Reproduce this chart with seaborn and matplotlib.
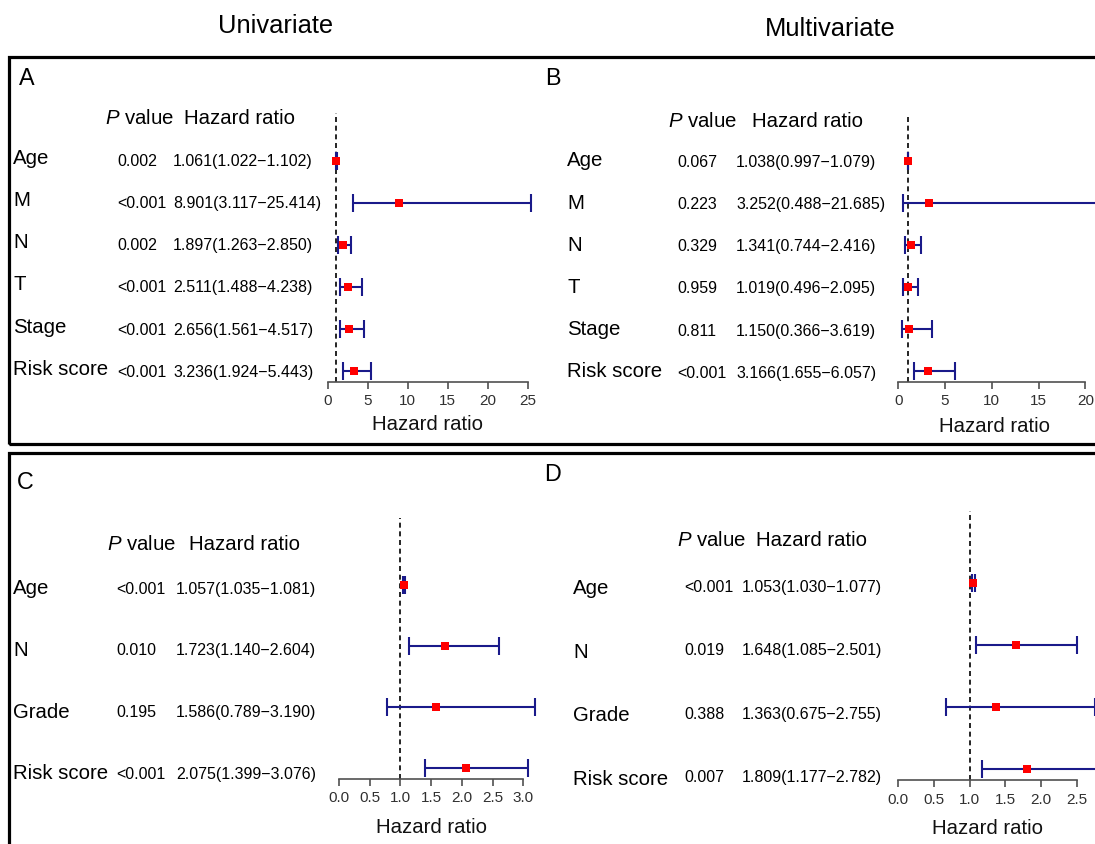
import numpy as np
import pandas as pd
import matplotlib
matplotlib.use("Agg")
import matplotlib.pyplot as plt
from matplotlib.patches import Rectangle
import seaborn as sns

# ---------------- data ----------------
a_vars = ["Age", "M", "N", "T", "Stage", "Risk score"]
a_p = ["0.002", "<0.001", "0.002", "<0.001", "<0.001", "<0.001"]
a_hr = [1.061, 8.901, 1.897, 2.511, 2.656, 3.236]
a_lo = [1.022, 3.117, 1.263, 1.488, 1.561, 1.924]
a_hi = [1.102, 25.414, 2.850, 4.238, 4.517, 5.443]
a_ticks = [0, 5, 10, 15, 20, 25]

b_vars = ["Age", "M", "N", "T", "Stage", "Risk score"]
b_p = ["0.067", "0.223", "0.329", "0.959", "0.811", "<0.001"]
b_hr = [1.038, 3.252, 1.341, 1.019, 1.150, 3.166]
b_lo = [0.997, 0.488, 0.744, 0.496, 0.366, 1.655]
b_hi = [1.079, 21.685, 2.416, 2.095, 3.619, 6.057]
b_ticks = [0, 5, 10, 15, 20]

c_vars = ["Age", "N", "Grade", "Risk score"]
c_p = ["<0.001", "0.010", "0.195", "<0.001"]
c_hr = [1.057, 1.723, 1.586, 2.075]
c_lo = [1.035, 1.140, 0.789, 1.399]
c_hi = [1.081, 2.604, 3.190, 3.076]
c_ticks = [0.0, 0.5, 1.0, 1.5, 2.0, 2.5, 3.0]

d_vars = ["Age", "N", "Grade", "Risk score"]
d_p = ["<0.001", "0.019", "0.388", "0.007"]
d_hr = [1.053, 1.648, 1.363, 1.809]
d_lo = [1.030, 1.085, 0.675, 1.177]
d_hi = [1.077, 2.501, 2.755, 2.782]
d_ticks = [0.0, 0.5, 1.0, 1.5, 2.0, 2.5]

col_titles = ["Univariate", "Multivariate"]
panel_letters = ["A", "B", "C", "D"]

# ---------------- style ----------------
sns.set_theme(style="white")
plt.rcParams["font.family"] = ["Liberation Sans", "DejaVu Sans"]
plt.rcParams["mathtext.fontset"] = "custom"
plt.rcParams["mathtext.it"] = "Liberation Sans:italic"
plt.rcParams["mathtext.rm"] = "Liberation Sans"

W, H = 1095, 844
fig = plt.figure(figsize=(W / 100, H / 100), dpi=100)
fig.patch.set_facecolor("white")

NAVY = "#1a1a8a"
AXC = "#505050"
LBL_FS = 14.7
VAL_FS = 11.5
LBL_HALF = 0.716 * LBL_FS * 100 / 72 / 2
VAL_HALF = 0.716 * VAL_FS * 100 / 72 / 2


def fx(x):
    return x / W


def fy(y):
    return 1 - y / H


def ftext(x, y, s, size, half, **kw):
    fig.text(fx(x), fy(y + half), s, fontsize=size, ha=kw.pop("ha", "left"),
             va="baseline", color=kw.pop("color", "black"), **kw)


# layout (pixel positions)
layouts = [
    dict(x0=327.7, ppu=8.01, xmax=25.414, mark_y0=160.7, step=42.07, axis_y=381.7,
         dash_top=113, label_x=13, p_x=117, hr_x=173, label_y0=156.5, txt_y0=160,
         txt_step=42.2, head_y=117, headP_x=105, headHR_x=184, xlab=(427, 423),
         letter=(19, 77), fmt="{:.0f}"),
    dict(x0=898.3, ppu=9.35, xmax=21.685, mark_y0=160.7, step=42.07, axis_y=381.7,
         dash_top=115, label_x=567, p_x=677, hr_x=736, label_y0=159, txt_y0=161,
         txt_step=42.2, head_y=120, headP_x=668, headHR_x=752, xlab=(995, 425),
         letter=(545, 77), fmt="{:.0f}"),
    dict(x0=339, ppu=61.4, xmax=3.19, mark_y0=585, step=61.1, axis_y=779,
         dash_top=518, label_x=13, p_x=116, hr_x=176, label_y0=587, txt_y0=588,
         txt_step=61.6, head_y=542.7, headP_x=107, headHR_x=189, xlab=(432, 826),
         letter=(17, 481), fmt="{:.1f}"),
    dict(x0=898.3, ppu=71.4, xmax=2.782, mark_y0=583.3, step=61.9, axis_y=780,
         dash_top=511, label_x=573, p_x=684, hr_x=742, label_y0=586.7, txt_y0=586,
         txt_step=63.5, head_y=539, headP_x=677, headHR_x=756, xlab=(987, 827),
         letter=(544, 473), fmt="{:.1f}"),
]

panels = [
    (a_vars, a_p, a_hr, a_lo, a_hi, a_ticks),
    (b_vars, b_p, b_hr, b_lo, b_hi, b_ticks),
    (c_vars, c_p, c_hr, c_lo, c_hi, c_ticks),
    (d_vars, d_p, d_hr, d_lo, d_hi, d_ticks),
]


def draw_panel(L, letter, vars_, pvals, hr, lo, hi, ticks):
    n = len(vars_)
    left = fx(L["x0"])
    width = L["xmax"] * L["ppu"] / W
    bottom = fy(L["axis_y"])
    height = (L["axis_y"] - L["dash_top"]) / H
    ax = fig.add_axes([left, bottom, width, height])
    ax.set_facecolor("none")

    df = pd.DataFrame({"hr": hr, "lo": lo, "hi": hi, "row": np.arange(n)})
    eb = ax.errorbar(df["hr"], df["row"],
                     xerr=[df["hr"] - df["lo"], df["hi"] - df["hr"]],
                     fmt="none", ecolor=NAVY, elinewidth=1.5, capsize=6.5,
                     capthick=1.5, zorder=2)
    for art in eb.get_children():
        art.set_clip_on(False)
    sns.scatterplot(data=df, x="hr", y="row", marker="s", color="#ff0000", s=38,
                    linewidth=0, ax=ax, zorder=3, legend=False, clip_on=False)
    ax.axvline(1, color="black", lw=1.2, ls=(0, (3, 2.2)), zorder=1)

    ax.set_xlim(0, L["xmax"])
    ax.set_ylim((L["axis_y"] - L["mark_y0"]) / L["step"],
                (L["dash_top"] - L["mark_y0"]) / L["step"])
    for s in ["top", "right", "left"]:
        ax.spines[s].set_visible(False)
    ax.spines["bottom"].set_bounds(ticks[0], ticks[-1])
    ax.spines["bottom"].set_color(AXC)
    ax.spines["bottom"].set_linewidth(1.2)
    ax.set_yticks([])
    ax.set_xticks(ticks)
    ax.set_xticklabels([L["fmt"].format(t) for t in ticks])
    ax.tick_params(axis="x", bottom=True, length=5, width=1.2, color=AXC,
                   labelsize=11, labelcolor="#303030", pad=4)
    ax.set_ylabel("")
    ax.set_xlabel("Hazard ratio", fontsize=LBL_FS, color="#111111")
    xl, yl = L["xlab"]
    ax.xaxis.set_label_coords((xl - L["x0"]) / (L["xmax"] * L["ppu"]),
                              (L["axis_y"] - (yl + LBL_HALF)) /
                              (L["axis_y"] - L["dash_top"]))
    ax.xaxis.label.set_va("baseline")

    # table text
    ftext(L["letter"][0], L["letter"][1], letter, 16.8, 0.716 * 16.8 * 100 / 72 / 2)
    ftext(L["headP_x"], L["head_y"], r"$\it{P}$ value", LBL_FS, LBL_HALF)
    ftext(L["headHR_x"], L["head_y"], "Hazard ratio", LBL_FS, LBL_HALF)
    for i in range(n):
        ftext(L["label_x"], L["label_y0"] + i * L["txt_step"], vars_[i], LBL_FS, LBL_HALF)
        yv = L["txt_y0"] + i * L["txt_step"]
        ftext(L["p_x"], yv, pvals[i], VAL_FS, VAL_HALF)
        ftext(L["hr_x"], yv, "{:.3f}({:.3f}\u2212{:.3f})".format(hr[i], lo[i], hi[i]),
              VAL_FS, VAL_HALF)
    return ax


for L, letter, (v, p, h, lo_, hi_, t) in zip(layouts, panel_letters, panels):
    draw_panel(L, letter, v, p, h, lo_, hi_, t)

# column titles
TITLE_FS = 18.4
ftext(276, 24, col_titles[0], TITLE_FS, 0.716 * TITLE_FS * 100 / 72 / 2, ha="center")
ftext(830, 27, col_titles[1], TITLE_FS, 0.716 * TITLE_FS * 100 / 72 / 2, ha="center")

# panel frames (extend past the right/bottom edges as in the cropped original)
fig.add_artist(Rectangle((fx(9), fy(444)), fx(1110) - fx(9), fy(57) - fy(444),
                         transform=fig.transFigure, fill=False, lw=2.3,
                         edgecolor="black", clip_on=False))
fig.add_artist(Rectangle((fx(9), fy(860)), fx(1110) - fx(9), fy(453) - fy(860),
                         transform=fig.transFigure, fill=False, lw=2.3,
                         edgecolor="black", clip_on=False))

fig.savefig("out.png", dpi=100)
